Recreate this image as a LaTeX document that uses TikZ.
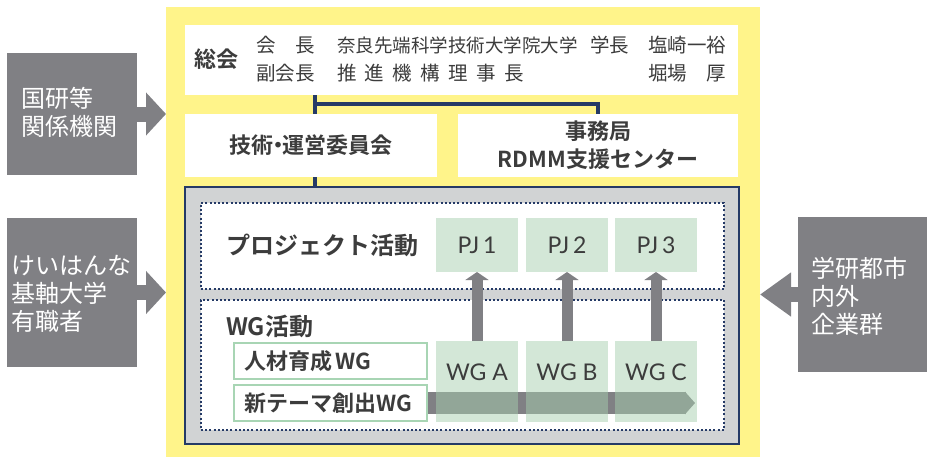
\documentclass[tikz,border=0pt]{standalone}
\usepackage{fontspec}
\setmainfont{Noto Sans CJK JP}[BoldFont={* Bold}]
\newfontfamily\pjfont{Lato}
\usetikzlibrary{arrows.meta}

\definecolor{framey}{HTML}{FFF48A}
\definecolor{navy}{HTML}{253A66}
\definecolor{coregray}{HTML}{D1D3D4}
\definecolor{extgray}{HTML}{808084}
\definecolor{textgray}{HTML}{3C3C3C}
\definecolor{pjgreen}{HTML}{A6CFAE}
\definecolor{wggreen}{HTML}{A8D5B4}

\begin{document}
\begin{tikzpicture}
[
 x=1pt, y=-1pt,
 every node/.style = {inner sep=0pt, outer sep=0pt, text=textgray},
 panel/.style = {fill=white, anchor=north west},
 ext/.style = {fill=extgray, anchor=north west},
 exttext/.style = {anchor=west, align=left, text=white, font=\fontsize{24}{28}\selectfont},
 toptext/.style = {anchor=west, font=\fontsize{19.5}{22}\selectfont},
 head/.style = {font=\bfseries\fontsize{22}{28}\selectfont, align=center},
 bighead/.style = {anchor=west, font=\bfseries\fontsize{24}{28}\selectfont},
 dotbox/.style = {fill=white, draw=navy, line width=2pt, dash pattern=on 2pt off 2.2pt, anchor=north west, minimum width=523pt},
 pj/.style = {fill=pjgreen, fill opacity=0.49, text opacity=1, anchor=north west, minimum width=82pt, font=\pjfont\fontsize{23}{26}\selectfont},
 wgtext/.style = {anchor=center, yshift=-31pt, text opacity=1, font=\pjfont\fontsize{23}{26}\selectfont},
 wglabel/.style = {fill=white, draw=wggreen, line width=2.5pt, anchor=north west, minimum height=36pt, inner xsep=10pt, text width=173pt, align=left, font=\bfseries\fontsize{22}{26}\selectfont},
 link/.style = {draw=navy, line width=3.5pt},
 up/.style = {draw=extgray, line width=11pt, -{Triangle[width=23pt,length=8pt]}},
 band/.style = {draw=extgray, line width=22pt, -{Triangle[width=22pt,length=10pt]}},
 bigarrow/.style = {draw=extgray, line width=15pt, -{Triangle[width=42pt,length=#1]}},
]

\useasboundingbox (0,0) rectangle (927,459);

\node (frame) at (166,7) [fill=framey, anchor=north west, minimum width=594pt, minimum height=450pt] {};

% outside partners
\node (kenkyu) at (7,53) [ext, minimum width=130pt, minimum height=122pt] {};
\node (kenkyutxt) at (21,112) [exttext] {国研等\\関係機関};
\node (keihanna) at (7,218) [ext, minimum width=130pt, minimum height=149pt] {};
\node (keihannatxt) at (12,294) [exttext] {けいはんな\\基軸大学\\有職者};
\node (kigyo) at (798,217) [ext, minimum width=129pt, minimum height=155pt] {};
\node (kigyotxt) at (811,296) [exttext] {学研都市\\内外\\企業群};

\draw[bigarrow=20pt] (kenkyu.east) -- (kenkyu.east -| frame.west);
\draw[bigarrow=20pt] (keihanna.east) -- (keihanna.east -| frame.west);
\draw[bigarrow=31pt] (kigyo.west) -- (kigyo.west -| frame.east);

% general meeting
\node (soukai) at (185,25) [panel, minimum width=553pt, minimum height=70pt] {};
\node (soukaitxt) at (194,59) [anchor=west, font=\bfseries\fontsize{22}{26}\selectfont] {総会};
\node (kaicho) at (256,45) [toptext] {会　長};
\node (fuku) at (256,73) [toptext] {副会長};
\node (naist) at (337,45) [toptext, font=\fontsize{18.5}{22}\selectfont] {奈良先端科学技術大学院大学};
\node (gakucho) at (590,45) [toptext] {学長};
\node (suishin) at (337,73) [toptext] {推\kern8.5pt 進\kern8.5pt 機\kern8.5pt 構\kern8.5pt 理\kern8.5pt 事\kern8.5pt 長};
\node (shiozaki) at (648,45) [toptext] {塩崎一裕};
\node (horiba) at (648,73) [toptext] {堀場　厚};

\node (gijutsu) at (185,114) [panel, minimum width=252pt, minimum height=63pt, head] {技術\kern-0.3em・\kern-0.3em運営委員会};
\node (jimu) at (458,114) [panel, minimum width=280pt, minimum height=63pt, head] {事務局\\RDMM支援センター};

\coordinate (split) at (315,104);
\draw[link] (soukai.south -| split) -- (gijutsu.north -| split);
\draw[link] (split) -| (jimu.north);

% activities
\node (core) at (185,187) [fill=coregray, draw=navy, line width=2.5pt, anchor=north west, minimum width=554pt, minimum height=257pt] {};
\draw[link] (gijutsu.south -| split) -- (core.north -| split);

\node (pjarea) at (201,203) [dotbox, minimum height=86pt] {};
\node (wgarea) at (201,300) [dotbox, minimum height=130pt] {};
\node (pjtitle) at (226,245) [bighead] {プロジェクト活動};
\node (wgtitle) at (226,326) [bighead] {WG活動};

\coordinate (bandstart) at (427,403);
\coordinate (bandend) at (695,403);
\draw[band] (bandstart) -- (bandend);

\node (pj1) at (436,218) [pj, minimum height=54pt] {PJ\,1};
\node (pj2) at (526,218) [pj, minimum height=54pt] {PJ\,2};
\node (pj3) at (615,218) [pj, minimum height=54pt] {PJ\,3};
\node (wga) at (436,341) [pj, minimum height=81pt, label={[wgtext]north:WG A}] {};
\node (wgb) at (526,341) [pj, minimum height=81pt, label={[wgtext]north:WG B}] {};
\node (wgc) at (615,341) [pj, minimum height=81pt, label={[wgtext]north:WG C}] {};

\node (jinzai) at (234,343) [wglabel] {人材育成\,WG};
\node (shintema) at (234,385) [wglabel] {新テーマ創出WG};

\draw[up] (wga.north) -- (pj1.south);
\draw[up] (wgb.north) -- (pj2.south);
\draw[up] (wgc.north) -- (pj3.south);

\end{tikzpicture}
\end{document}
